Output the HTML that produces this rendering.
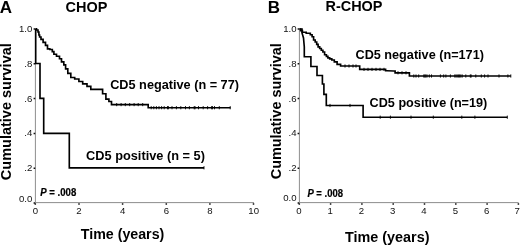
<!DOCTYPE html>
<html><head><meta charset="utf-8">
<style>
html,body{margin:0;padding:0;background:#fff;}
svg{display:block;will-change:transform;font-family:"Liberation Sans",sans-serif;}
.b{font-weight:bold;fill:#000;}
.t{font-size:9.6px;fill:#111;}
.c{fill:none;stroke:#000;stroke-width:1.65;stroke-linejoin:miter;}
.k{fill:none;stroke:#000;stroke-width:0.9;}
.ax{fill:none;stroke:#787878;stroke-width:0.85;}
.tk{fill:none;stroke:#111;stroke-width:1.5;}
</style></head><body>
<svg width="520" height="245" viewBox="0 0 520 245">
<rect width="520" height="245" fill="#fff"/>
<!-- LEFT -->
<text class="b" x="-0.2" y="12.7" font-size="17">A</text>
<text class="b" x="65.6" y="12.2" font-size="14" textLength="41.8" lengthAdjust="spacingAndGlyphs">CHOP</text>
<text class="b" transform="translate(11,180.2) rotate(-90)" font-size="14" textLength="137" lengthAdjust="spacingAndGlyphs">Cumulative survival</text>
<path class="ax" d="M35.4 28.5 V202.6 H254"/>
<path class="tk" d="M33.6 29 H35.2 M33.6 63.8 H35.2 M33.6 98.6 H35.2 M33.6 133.4 H35.2 M33.6 168.2 H35.2 M33.6 203 H35.2"/>
<path class="tk" d="M35.3 203.2 V204.8 M79 203.2 V204.8 M122.6 203.2 V204.8 M166.3 203.2 V204.8 M209.9 203.2 V204.8 M253.5 203.2 V204.8"/>
<g class="t" text-anchor="end">
<text x="32.3" y="31.9">1.0</text><text x="32.3" y="66.7">.8</text><text x="32.3" y="101.5">.6</text><text x="32.3" y="136.3">.4</text><text x="32.3" y="171.1">.2</text><text x="32.3" y="201.5">0.0</text>
</g>
<g class="t" text-anchor="middle">
<text x="35.3" y="213.7">0</text><text x="79" y="213.7">2</text><text x="122.6" y="213.7">4</text><text x="166.3" y="213.7">6</text><text x="209.9" y="213.7">8</text><text x="253.7" y="213.7">10</text>
</g>
<path class="c" d="M35.6 28.8 H36.5 V30.0 H37.5 H38.0 V32.0 H38.5 H38.9 V35.0 H39.2 H39.6 V37.0 H40.0 H41.0 V39.3 H42.0 H43.1 V42.4 H44.2 H45.5 V45.4 H46.7 H47.5 V48.9 H48.3 H49.8 V49.5 H51.3 H52.3 V51.6 H53.4 H53.9 V54.2 H54.4 H56.5 V56.2 H58.5 H59.5 V58.7 H60.5 H61.5 V61.8 H62.6 H63.8 V64.8 H64.9 H65.6 V68.9 H66.2 H67.8 V73.4 H69.3 H70.8 V77.5 H72.2 H74.7 V79.0 H77.1 H78.9 V81.5 H80.8 H82.7 V83.9 H84.5 H87.0 V86.3 H89.4 H90.8 V89.3 H92.3 L101.1 89.3 H102.6 V93.7 H104.1 H105.9 V99.1 H107.8 H108.9 V101.5 H110.0 H111.5 V104.6 H113.1 L147.3 104.6 H148.2 V107.7 H149.0 L230.5 107.7"/>
<path class="k" d="M116.7 103.0 V106.2 M121.1 103.0 V106.2 M125.3 103.0 V106.2 M129.7 103.0 V106.2 M134.1 103.0 V106.2 M138.2 103.0 V106.2 M142.7 103.0 V106.2 M151.2 106.1 V109.3 M153.8 106.1 V109.3 M156.4 106.1 V109.3 M159.0 106.1 V109.3 M161.6 106.1 V109.3 M164.2 106.1 V109.3 M167.5 106.1 V109.3 M168.4 106.1 V109.3 M172.0 106.1 V109.3 M176.4 106.1 V109.3 M180.8 106.1 V109.3 M185.5 106.1 V109.3 M189.4 106.1 V109.3 M194.2 106.1 V109.3 M195.0 106.1 V109.3 M198.5 106.1 V109.3 M203.2 106.1 V109.3 M207.6 106.1 V109.3 M211.6 106.1 V109.3 M212.5 106.1 V109.3 M214.5 106.1 V109.3 M219.3 106.1 V109.3 M230.2 106.1 V109.3 "/>
<path class="c" d="M35.7 28.8 V63.5 H40 V98.3 H43.7 V133.3 H69.3 V167.8 H204"/>
<path class="k" d="M204.0 166.2 V169.4 "/>
<text class="b" x="110.2" y="89.2" font-size="12.7" textLength="128.8" lengthAdjust="spacingAndGlyphs">CD5 negative (n = 77)</text>
<text class="b" x="86.1" y="159.8" font-size="12.7" textLength="118.8" lengthAdjust="spacingAndGlyphs">CD5 positive (n = 5)</text>
<text class="b" transform="translate(40.3,196.1) scale(1,1.07)" font-size="9.6" stroke="#000" stroke-width="0.2" textLength="36" lengthAdjust="spacingAndGlyphs"><tspan font-style="italic">P</tspan> = .008</text>
<text class="b" x="80.8" y="238.8" font-size="14" textLength="83.5" lengthAdjust="spacingAndGlyphs">Time (years)</text>
<!-- RIGHT -->
<text class="b" x="267.8" y="12.7" font-size="17">B</text>
<text class="b" x="325.5" y="11.2" font-size="14" textLength="57" lengthAdjust="spacingAndGlyphs">R-CHOP</text>
<text class="b" transform="translate(280.5,179.2) rotate(-90)" font-size="14" textLength="136" lengthAdjust="spacingAndGlyphs">Cumulative survival</text>
<path class="ax" d="M299.4 28.5 V202.6 H518.6"/>
<path class="tk" d="M297.6 29 H299.2 M297.6 63.8 H299.2 M297.6 98.6 H299.2 M297.6 133.4 H299.2 M297.6 168.2 H299.2 M297.6 203 H299.2"/>
<path class="tk" d="M299.3 203.2 V204.8 M330.6 203.2 V204.8 M361.9 203.2 V204.8 M393.2 203.2 V204.8 M424.5 203.2 V204.8 M455.8 203.2 V204.8 M487.1 203.2 V204.8 M518.4 203.2 V204.8"/>
<g class="t" text-anchor="end">
<text x="296.5" y="31.9">1.0</text><text x="296.5" y="66.7">.8</text><text x="296.5" y="101.5">.6</text><text x="296.5" y="136.3">.4</text><text x="296.5" y="171.1">.2</text><text x="296.5" y="201.4">0.0</text>
</g>
<g class="t" text-anchor="middle">
<text x="298.8" y="213.5">0</text><text x="330.1" y="213.5">1</text><text x="361.4" y="213.5">2</text><text x="392.7" y="213.5">3</text><text x="424.0" y="213.5">4</text><text x="455.3" y="213.5">5</text><text x="486.6" y="213.5">6</text><text x="517.1" y="213.5">7</text>
</g>
<path class="c" d="M299.6 29.0 H300.6 V30.6 H301.7 H302.4 V32.2 H303.2 H306.2 V33.2 H309.3 H310.3 V34.7 H311.3 H312.1 V36.7 H312.8 H313.6 V40.0 H314.4 H315.2 V42.0 H316.0 H316.7 V44.4 H317.4 H318.1 V46.9 H318.9 H319.7 V48.5 H320.5 H321.3 V50.2 H322.1 H322.9 V52.0 H323.6 H324.6 V54.7 H325.6 H326.4 V56.3 H327.2 H327.9 V57.9 H328.7 H329.7 V58.9 H330.7 H331.8 V60.0 H332.8 H334.3 V61.8 H335.8 H337.1 V64.3 H338.5 H340.6 V66.0 H342.8 L358.4 66.0 H359.7 V69.4 H361.0 L384.3 69.4 H385.6 V70.7 H386.9 L393.8 71.0 H395.1 V72.8 H396.4 L407.7 72.8 H409.4 V76.0 H411.1 L510.8 76.0"/>
<path class="k" d="M345.0 64.4 V67.6 M349.0 64.4 V67.6 M353.0 64.4 V67.6 M356.0 64.4 V67.6 M364.0 67.8 V71.0 M368.0 67.8 V71.0 M372.0 67.8 V71.0 M376.0 67.8 V71.0 M380.0 67.8 V71.0 M384.0 67.8 V71.0 M398.0 71.2 V74.4 M402.0 71.2 V74.4 M406.0 71.2 V74.4 M413.8 74.4 V77.6 M416.0 74.4 V77.6 M418.7 74.4 V77.6 M423.8 74.4 V77.6 M424.8 74.4 V77.6 M425.8 74.4 V77.6 M427.0 74.4 V77.6 M429.3 74.4 V77.6 M431.5 74.4 V77.6 M440.4 74.4 V77.6 M443.7 74.4 V77.6 M445.9 74.4 V77.6 M450.4 74.4 V77.6 M454.8 74.4 V77.6 M456.0 74.4 V77.6 M457.2 74.4 V77.6 M458.4 74.4 V77.6 M459.6 74.4 V77.6 M460.8 74.4 V77.6 M462.2 74.4 V77.6 M465.8 74.4 V77.6 M470.3 74.4 V77.6 M471.1 74.4 V77.6 M475.8 74.4 V77.6 M481.3 74.4 V77.6 M484.6 74.4 V77.6 M488.0 74.4 V77.6 M499.0 74.4 V77.6 M507.9 74.4 V77.6 M510.8 74.4 V77.6 "/>
<path class="c" d="M299.5 29 H302 V33 L303.5 38 L304.3 47 V56.7 H310.9 V66.5 H317 V75.5 H322.4 V84 H323.9 V94.3 H326.3 V105.5 H363.1 V117.2 H507.3"/>
<path class="k" d="M330.0 103.9 V107.1 M350.0 103.9 V107.1 M380.2 115.6 V118.8 M390.4 115.6 V118.8 M411.0 115.6 V118.8 M433.3 115.6 V118.8 M461.8 115.6 V118.8 M474.9 115.6 V118.8 M507.3 115.6 V118.8 "/>
<text class="b" x="355.5" y="59" font-size="12.7" textLength="128.4" lengthAdjust="spacingAndGlyphs">CD5 negative (n=171)</text>
<text class="b" x="369.6" y="107.3" font-size="12.7" textLength="117.7" lengthAdjust="spacingAndGlyphs">CD5 positive (n=19)</text>
<text class="b" transform="translate(307.4,196.6) scale(1,1.07)" font-size="9.6" stroke="#000" stroke-width="0.2" textLength="35.6" lengthAdjust="spacingAndGlyphs"><tspan font-style="italic">P</tspan> = .008</text>
<text class="b" x="345" y="241.5" font-size="14" textLength="84.5" lengthAdjust="spacingAndGlyphs">Time (years)</text>
</svg>
</body></html>
